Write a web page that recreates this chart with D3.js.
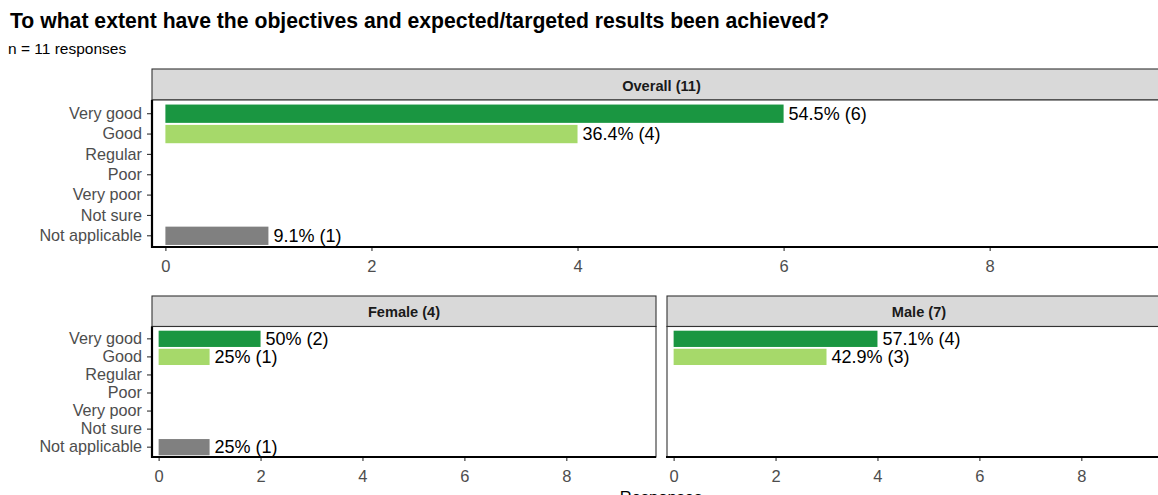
<!DOCTYPE html>
<html>
<head>
<meta charset="utf-8">
<script src="https://cdn.jsdelivr.net/npm/d3@7"></script>
<style>
  html, body { margin: 0; padding: 0; background: #fff; overflow: hidden; }
  svg { display: block; font-family: "Liberation Sans", Arial, sans-serif; }
</style>
</head>
<body>
<svg id="chart" width="1158" height="495"></svg>
<script>
// ---- data ----
const categories = ["Very good", "Good", "Regular", "Poor", "Very poor", "Not sure", "Not applicable"];
const categoryColors = ["#1A9641", "#A6D96A", "#FDAE61", "#F46D43", "#D7191C", "#BDBDBD", "#808080"];
const overallCounts = [6, 4, 0, 0, 0, 0, 1];
const femaleCounts = [2, 1, 0, 0, 0, 0, 1];
const maleCounts = [4, 3, 0, 0, 0, 0, 0];
const panelNames = ["Overall (11)", "Female (4)", "Male (7)"];
const panelTotals = [11, 4, 7];
const xTicks = [0, 2, 4, 6, 8];
const xDomain = [-0.13, 9.76];
const titleText = "To what extent have the objectives and expected/targeted results been achieved?";
const subtitleText = "n = 11 responses";
const xTitle = "Responses";

const svg = d3.select("#chart");

svg.append("text").attr("x", 10).attr("y", 28)
  .attr("font-size", 21.2).attr("font-weight", "bold").attr("fill", "#000")
  .text(titleText);
svg.append("text").attr("x", 8).attr("y", 54)
  .attr("font-size", 15.5).attr("fill", "#000")
  .text(subtitleText);

const panels = [
  { name: panelNames[0], counts: overallCounts, total: panelTotals[0], left: 152, right: 1171, stripTop: 69, top: 100, bottom: 247, yAxis: true },
  { name: panelNames[1], counts: femaleCounts, total: panelTotals[1], left: 152, right: 656, stripTop: 296, top: 326.5, bottom: 457, yAxis: true },
  { name: panelNames[2], counts: maleCounts, total: panelTotals[2], left: 667, right: 1171, stripTop: 296, top: 326.5, bottom: 457, yAxis: false }
];

function pctLabel(c, total) {
  const p = +(c / total * 100).toFixed(1);
  return p + "% (" + c + ")";
}

panels.forEach(p => {
  const g = svg.append("g");
  const x = d3.scaleLinear().domain(xDomain).range([p.left, p.right]);
  const y = d3.scaleBand().domain(categories).range([p.top + 1.5, p.bottom + 1])
    .paddingInner(0.1).paddingOuter(0.15);

  // strip
  g.append("rect").attr("x", p.left).attr("y", p.stripTop)
    .attr("width", p.right - p.left).attr("height", p.top - p.stripTop)
    .attr("fill", "#D9D9D9").attr("stroke", "#333").attr("stroke-width", 1.1);
  g.append("text").attr("x", (p.left + p.right) / 2).attr("y", (p.stripTop + p.top) / 2 + 1)
    .attr("text-anchor", "middle").attr("dominant-baseline", "central")
    .attr("font-size", 14.6).attr("font-weight", "bold").attr("fill", "#1A1A1A")
    .text(p.name);

  // panel background + border
  g.append("rect").attr("x", p.left).attr("y", p.top)
    .attr("width", p.right - p.left).attr("height", p.bottom - p.top)
    .attr("fill", "#fff").attr("stroke", "#333").attr("stroke-width", 1.1);

  const rows = categories.map((c, i) => ({ cat: c, count: p.counts[i], color: categoryColors[i] }));

  g.selectAll("rect.bar").data(rows.filter(d => d.count > 0)).join("rect")
    .attr("class", "bar")
    .attr("x", x(0)).attr("y", d => y(d.cat))
    .attr("width", d => x(d.count) - x(0)).attr("height", y.bandwidth())
    .attr("fill", d => d.color);

  g.selectAll("text.lbl").data(rows.filter(d => d.count > 0)).join("text")
    .attr("class", "lbl")
    .attr("x", d => x(d.count) + 5).attr("y", d => y(d.cat) + y.bandwidth() / 2)
    .attr("dominant-baseline", "central").attr("font-size", 18).attr("fill", "#000")
    .text(d => pctLabel(d.count, p.total));

  // x axis
  const xa = g.append("g").attr("transform", `translate(0,${p.bottom})`)
    .call(d3.axisBottom(x).tickValues(xTicks).tickSize(4).tickPadding(9).tickFormat(d3.format("d")));
  xa.select(".domain").remove();
  xa.selectAll(".tick line").attr("stroke", "#333").attr("stroke-width", 1.1);
  xa.selectAll(".tick text").attr("font-size", 16.5).attr("fill", "#4D4D4D").attr("font-family", "Liberation Sans, Arial, sans-serif");
  g.append("line").attr("x1", p.left - 1).attr("x2", p.right).attr("y1", p.bottom).attr("y2", p.bottom)
    .attr("stroke", "#000").attr("stroke-width", 2.2);

  if (p.yAxis) {
    const ya = g.append("g").attr("transform", `translate(${p.left},0)`)
      .call(d3.axisLeft(y).tickSize(5).tickPadding(5));
    ya.select(".domain").remove();
    ya.selectAll(".tick line").attr("stroke", "#333").attr("stroke-width", 1.1);
    ya.selectAll(".tick text").attr("font-size", 16.2).attr("fill", "#4D4D4D").attr("font-family", "Liberation Sans, Arial, sans-serif");
    g.append("line").attr("x1", p.left).attr("x2", p.left).attr("y1", p.top).attr("y2", p.bottom + 1)
      .attr("stroke", "#000").attr("stroke-width", 2.2);
  }
});

svg.append("text").attr("x", 661).attr("y", 503)
  .attr("text-anchor", "middle").attr("font-size", 16.5).attr("fill", "#000")
  .text(xTitle);
</script>
</body>
</html>
